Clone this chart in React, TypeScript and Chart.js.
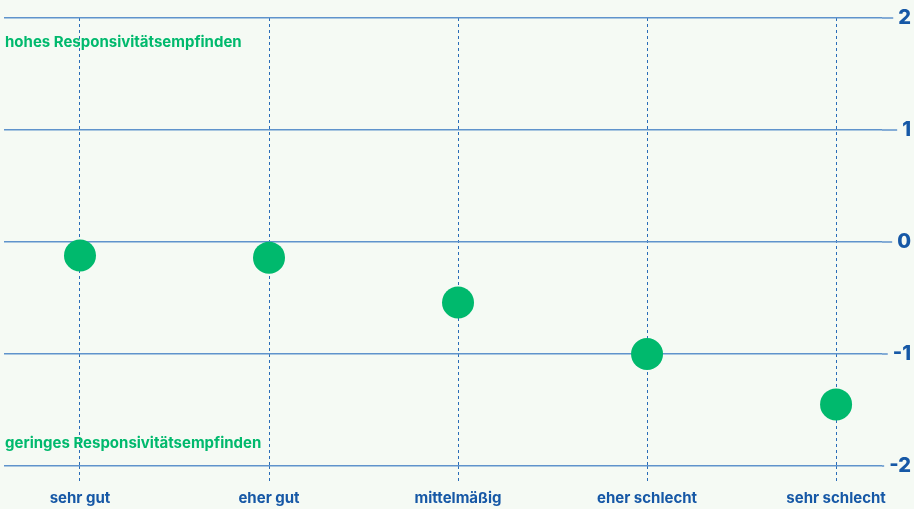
import React, { useEffect, useRef } from "react";
import { Chart, registerables } from "chart.js";

Chart.register(...registerables);

const categories = ["sehr gut", "eher gut", "mittelmäßig", "eher schlecht", "sehr schlecht"];
const values = [-0.12, -0.14, -0.54, -1.0, -1.45];
const yTicks = [-2, -1, 0, 1, 2];
const topNote = "hohes Responsivitätsempfinden";
const bottomNote = "geringes Responsivitätsempfinden";

const BG = "#f5faf4";
const GREEN = "#00b96d";
const BLUE = "#1658a6";
const GRID = "#5f93cc";
const DASH = "#2a6cb8";
const FONT = "Inter, 'Open Sans', sans-serif";
const YFONT = `800 20px ${FONT}`;

const notesPlugin = {
  id: "notes",
  afterDraw(chart: any) {
    const ctx = chart.ctx;
    const y = chart.scales.y;
    const area = chart.chartArea;
    ctx.save();
    // extend horizontal grid lines up to their labels
    ctx.font = YFONT;
    ctx.strokeStyle = GRID;
    ctx.lineWidth = 1.5;
    y.ticks.forEach((t: any) => {
      const label = String(t.value);
      const w = ctx.measureText(label).width;
      const py = y.getPixelForValue(t.value);
      const end = y.right - w - 5;
      if (end > area.right) {
        ctx.beginPath();
        ctx.moveTo(area.right, py);
        ctx.lineTo(end, py);
        ctx.stroke();
      }
    });
    ctx.fillStyle = GREEN;
    ctx.font = `bold 15px ${FONT}`;
    ctx.textAlign = "left";
    ctx.textBaseline = "middle";
    ctx.fillText(topNote, area.left + 1, y.getPixelForValue(1.785));
    ctx.fillText(bottomNote, area.left + 1, y.getPixelForValue(-1.8));
    ctx.restore();
  },
};

export default function App() {
  const ref = useRef<HTMLCanvasElement>(null);
  useEffect(() => {
    document.body.style.margin = "0";
    document.body.style.background = BG;
    const chart = new Chart(ref.current!, {
      type: "scatter",
      data: {
        datasets: [
          {
            data: values.map((v, i) => ({ x: i, y: v })),
            backgroundColor: GREEN,
            borderColor: GREEN,
            pointRadius: 16,
            pointHoverRadius: 16,
            borderWidth: 0,
          },
        ],
      },
      options: {
        animation: false,
        responsive: false,
        maintainAspectRatio: false,
        layout: { autoPadding: false, padding: { left: 4, top: 18, right: 3, bottom: 0 } },
        plugins: { legend: { display: false }, tooltip: { enabled: false } },
        scales: {
          x: {
            type: "linear",
            min: -0.402,
            max: 4.243,
            afterBuildTicks: (axis: any) => {
              axis.ticks = categories.map((_, i) => ({ value: i }));
            },
            afterFit: (s: any) => {
              s.paddingLeft = 0;
              s.paddingRight = 0;
              s.height = 43;
            },
            ticks: {
              callback: (v: any) => categories[v as number] ?? "",
              color: BLUE,
              font: { family: FONT, size: 15, weight: "bold" },
              padding: 7,
              maxRotation: 0,
              autoSkip: false,
            },
            grid: {
              color: DASH,
              lineWidth: 1,
              tickBorderDash: [3, 3],
              tickColor: DASH,
              tickLength: 16,
            },
            border: { display: false, dash: [3, 3] },
          },
          y: {
            position: "right",
            min: -2,
            max: 2,
            afterBuildTicks: (axis: any) => {
              axis.ticks = yTicks.map((v) => ({ value: v }));
            },
            afterFit: (s: any) => {
              s.width = 29;
              s.paddingTop = 0;
              s.paddingBottom = 0;
            },
            ticks: {
              color: BLUE,
              crossAlign: "far",
              font: { family: FONT, size: 20, weight: "800" },
              padding: 6,
            },
            grid: { color: GRID, lineWidth: 1.5, drawTicks: false },
            border: { display: false },
          },
        },
      },
      plugins: [notesPlugin],
    } as any);
    return () => chart.destroy();
  }, []);
  return (
    <div style={{ width: 914, height: 509, background: BG }}>
      <canvas ref={ref} width={914} height={509} style={{ display: "block" }} />
    </div>
  );
}
